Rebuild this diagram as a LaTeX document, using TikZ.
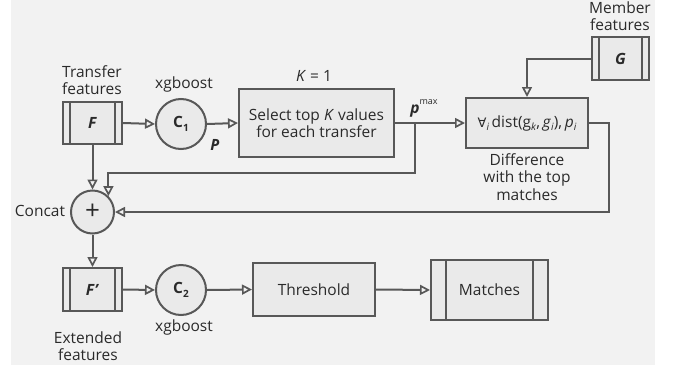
\documentclass[tikz,border=0pt]{standalone}
\usepackage{fontspec}
\setmainfont{Open Sans}
\newfontfamily\symfont{DejaVu Sans}
\usetikzlibrary{arrows.meta,calc}
\definecolor{bgcol}{HTML}{F2F2F2}
\definecolor{boxfill}{HTML}{EAEAEA}
\definecolor{linecol}{HTML}{585858}
\definecolor{txtcol}{HTML}{2A2A2A}
\newcommand{\lowsub}[1]{\raisebox{-0.45ex}{\fontsize{10}{10}\selectfont #1}}
\begin{document}
\begin{tikzpicture}[x=1pt,y=-1pt,
  every node/.style={text=txtcol, font=\fontsize{15.5}{17.5}\selectfont},
  lbl/.style={align=center, inner sep=0pt},
  procbox/.style={draw=linecol, fill=boxfill, line width=2pt, align=center, inner sep=0pt},
  circ/.style={circle, draw=linecol, fill=boxfill, line width=2pt, inner sep=0pt, minimum size=50pt},
  dbox/.style={procbox, path picture={
      \draw[linecol, line width=2pt]
        ([xshift=#1]path picture bounding box.north west) -- ([xshift=#1]path picture bounding box.south west)
        ([xshift=-#1]path picture bounding box.north east) -- ([xshift=-#1]path picture bounding box.south east);}},
  arr/.style={draw=linecol, line width=2pt, -{Triangle[open, length=10pt, width=10pt, line width=1.7pt]}},
  ln/.style={draw=linecol, line width=2pt}]
\useasboundingbox (0,0) rectangle (673,370);
\fill[bgcol] (11,0) rectangle (655,365);

% nodes
\node[dbox=7pt, minimum width=59pt, minimum height=42pt] (F) at (92.5,123) {\textbf{\textit{F}}};
\node[dbox=7pt, minimum width=57pt, minimum height=43pt] (G) at (620.5,58.5) {\textbf{\textit{G}}};
\node[dbox=7pt, minimum width=59pt, minimum height=43pt] (Fp) at (92.5,289.5) {\textbf{\textit{F\kern0.5pt\char"2019}}};
\node[dbox=15pt, minimum width=117pt, minimum height=60pt] (M) at (489.5,290) {Matches};
\node[circ] (C1) at (181,124) {\textbf{C}\lowsub{\textbf{1}}};
\node[circ] (C2) at (181,290) {\textbf{C}\lowsub{\textbf{2}}};
\node[circ, minimum size=43pt] (cc) at (92.5,212) {\fontsize{26}{26}\selectfont +};
\node[procbox, minimum width=155pt, minimum height=68pt] (sel) at (316.5,123) {Select top \textit{K} values\\for each transfer};
\node[procbox, minimum width=122pt, minimum height=50pt] (diff) at (527,123)
  {{\symfont\fontsize{13}{13}\selectfont ∀}\lowsub{\textit{i}}\,dist(g\lowsub{\textit{k}},\,\textit{g}\lowsub{\textit{i}}),\,\textit{p}\lowsub{\textit{i}}};
\node[procbox, minimum width=122pt, minimum height=53pt] (th) at (314,289.5) {Threshold};

% labels
\node[lbl] (lT) at (92,80) {Transfer\\features};
\node[lbl] (lx1) at (184,84) {xgboost};
\node[lbl] (lK) at (314,76) {\textit{K} = 1};
\node[lbl] (lP) at (215,145) {\textbf{\textit{P}}};
\node[lbl] (lpm) at (424,108) {\textbf{\textit{p}}\raisebox{1.1ex}{\fontsize{9}{9}\selectfont max}};
\node[lbl] (lM) at (620,16) {Member\\features};
\node[lbl] (lD) at (527,177) {Difference\\with the top\\matches};
\node[lbl] (lC) at (40,211) {Concat};
\node[lbl] (lx2) at (184,327) {xgboost};
\node[lbl] (lE) at (88,346) {Extended\\features};

% connectors
\draw[arr] (F.east) -- (C1.west);
\draw[arr] (C1.east) -- (sel.west);
\draw[arr] (sel.east) -- (diff.west);
\coordinate (pm) at ($(sel.east)+(20,0)$);
\coordinate (pmd) at ($(pm)+(0,50)$);
\draw[arr] (pm) -- (pmd) -| (cc.north east);
\draw[arr] (G.west) -| (diff.north);
\coordinate (dr) at ($(diff.east)+(20,0)$);
\draw[arr] (diff.east) -- (dr) |- (cc.east);
\draw[arr] (F.south) -- (cc.north);
\draw[arr] (cc.south) -- (Fp.north);
\draw[arr] (Fp.east) -- (C2.west);
\draw[arr] (C2.east) -- (th.west);
\draw[arr] (th.east) -- (M.west);
\end{tikzpicture}
\end{document}
